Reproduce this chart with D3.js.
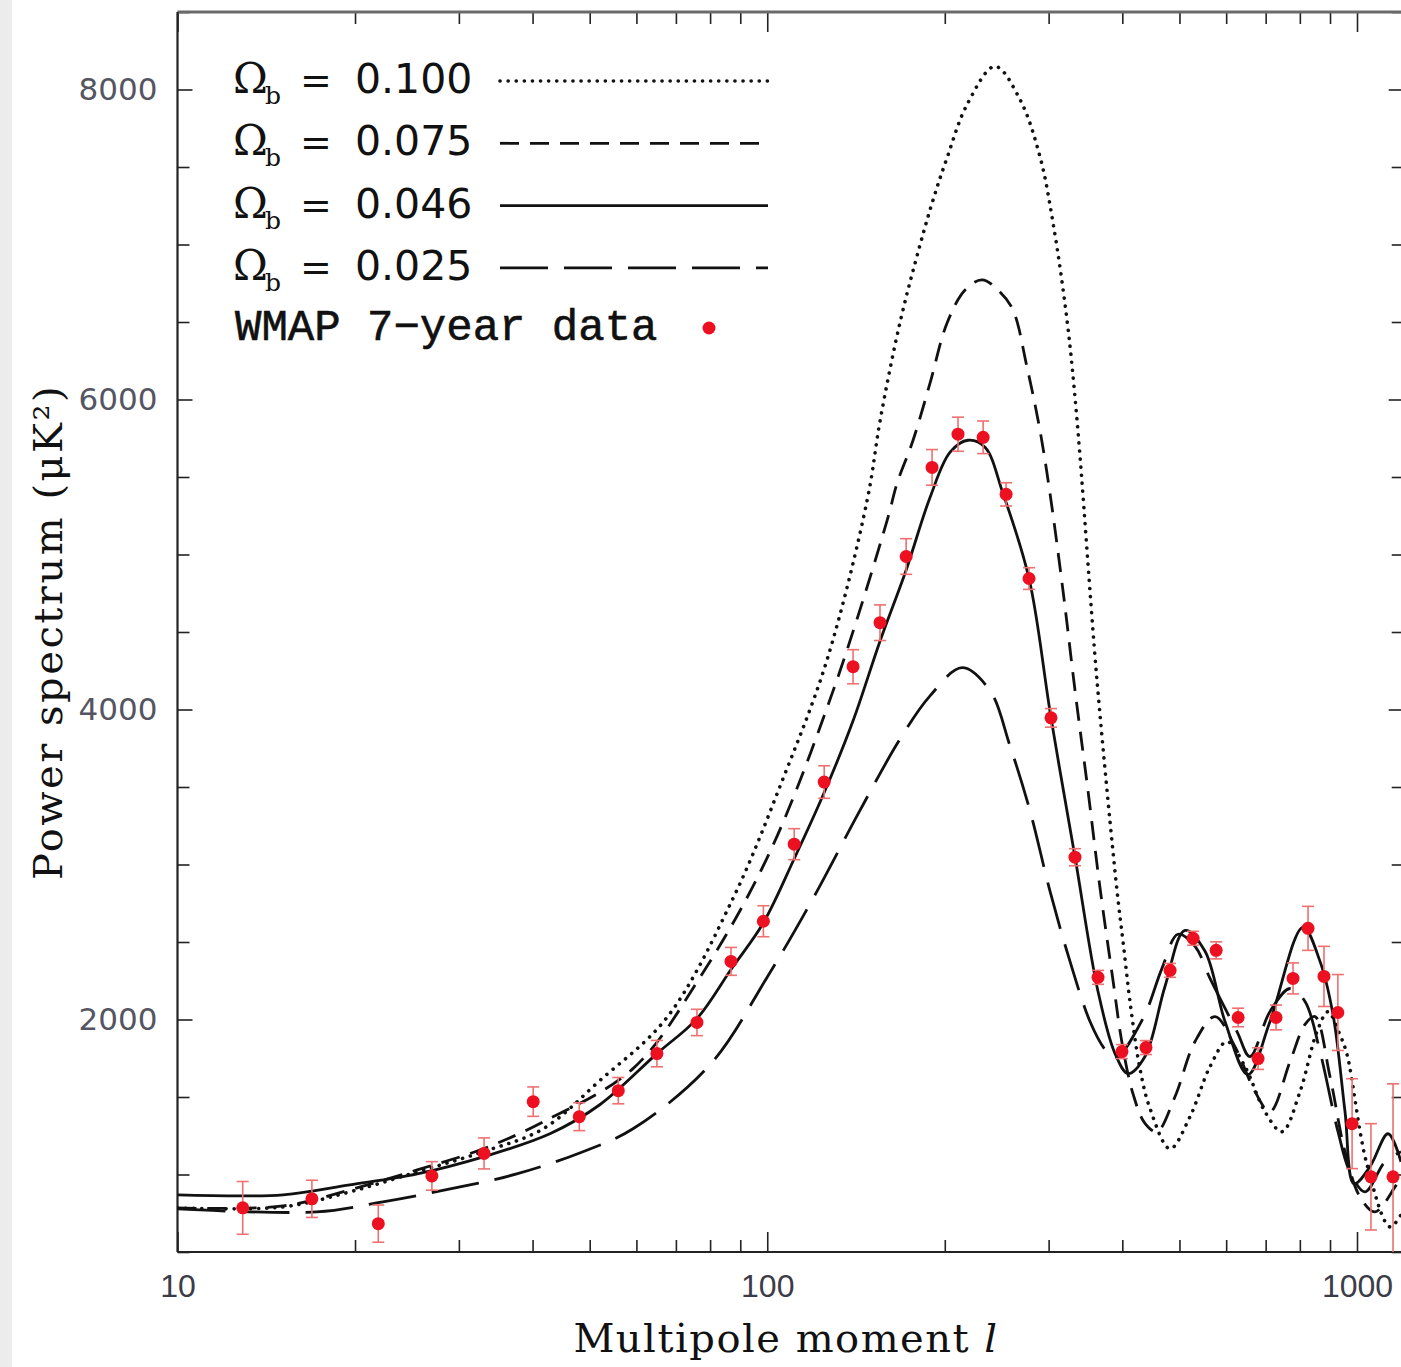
<!DOCTYPE html>
<html lang="en">
<head>
<meta charset="UTF-8">
<title>CMB power spectrum</title>
<script src="https://cdn.jsdelivr.net/npm/d3@7"></script>
<style>
    body { margin: 0; background: #fff; }
</style>
</head>
<body>
<svg width="1401" height="1367"></svg>
<script>
    // WMAP 7-year band powers: multipole, power (muK^2), 1-sigma error
    var wmapL = [12.9, 16.9, 21.9, 27.0, 33.1, 40.1, 48.0, 55.9, 65.0, 76.0, 86.8, 98.5, 111.1, 124.9, 139.8, 155.3, 172.0,
        190.3, 210.6, 232.3, 254.1, 277.9, 302.8, 332.5, 363.8, 399.4, 438.7, 482.0, 527.4, 577, 628.7, 679.6, 729, 779,
        826, 879, 928, 981, 1056, 1151];
    var wmapP = [785, 843, 683, 991, 1136, 1470, 1373, 1541, 1780, 1981, 2375, 2634, 3131, 3532, 4276, 4560, 4987,
        5562, 5776, 5756, 5388, 4845, 3946, 3047, 2272, 1793, 1819, 2317, 2524, 2446, 2013, 1748, 2013, 2265,
        2588, 2278, 2045, 1328, 985, 985];
    var wmapErr = [170, 120, 120, 92, 100, 95, 90, 85, 85, 85, 90, 100, 100, 105, 110, 115, 115,
        115, 110, 105, 75, 70, 60, 55, 45, 45, 45, 45, 45, 55, 60, 70, 80, 100,
        142, 194, 245, 290, 343, 600];

    // model spectra, [l, power] pairs
    var omega100 = [[10, 784], [15.1, 791], [19.6, 888], [25.5, 1017], [33.0, 1147], [41.7, 1295], [52.0, 1606],
        [67.6, 2013], [87.5, 2782], [106.3, 3552], [126.3, 4321], [147.7, 5349], [155.4, 5866], [168, 6500],
        [181.6, 6998], [191.1, 7289], [201.8, 7560], [218.2, 7903], [243.3, 8149], [268.3, 7935], [290, 7567],
        [305.2, 7140], [322.3, 6513], [335.2, 5866], [362.4, 4185], [391.9, 2828], [401.1, 2504], [412.2, 2116],
        [428.5, 1683], [445.7, 1425], [481.8, 1166], [521, 1373], [563.3, 1696], [602, 1858], [645.8, 1696],
        [698.2, 1405], [746.2, 1276], [800.4, 1534], [855.5, 1922], [893, 2050], [935.8, 1900], [961.8, 1774],
        [1039.9, 1063], [1137.5, 662], [1187.4, 740]];
    var omega075 = [[10, 784], [15.1, 797], [19.6, 901], [25.5, 1030], [33, 1166], [41.7, 1340], [59.2, 1683],
        [76.9, 2272], [99.9, 3041], [129.3, 4120], [159.7, 5220], [166, 5459], [176.7, 5737], [188.8, 6105],
        [201.8, 6494], [216.5, 6707], [231.3, 6772], [248.1, 6694], [261, 6578], [275.7, 6209], [290, 5802],
        [301.6, 5394], [317.3, 4767], [332.6, 4121], [349.9, 3474], [366.6, 2850], [385.8, 2250], [399.5, 1850],
        [417.1, 1520], [437, 1330], [458, 1276], [491.3, 1502], [531.3, 1858], [574.5, 2019], [621, 1825],
        [671.4, 1535], [712, 1405], [769.8, 1728], [816.3, 1968], [848.8, 2019], [900, 1631], [954.3, 1147],
        [1011.7, 856], [1072.7, 759], [1160, 920], [1187.4, 985]];
    var omega046 = [[10, 869], [15.1, 869], [19.6, 933], [25.5, 1004], [33.0, 1114], [42.8, 1263], [52.0, 1450],
        [65.0, 1780], [76.0, 2006], [86.8, 2323], [98.4, 2621], [111, 3034], [124.8, 3461], [139.8, 3927],
        [155.4, 4444], [171.9, 4897], [188.8, 5368], [204.2, 5660], [219, 5737], [234, 5692], [251, 5394],
        [277.9, 4845], [302.8, 3946], [332.6, 3047], [363.8, 2181], [388.8, 1780], [409, 1651], [437, 1761],
        [472.5, 2213], [510.9, 2575], [552.5, 2440], [597.3, 1987], [653.4, 1644], [712, 1987], [809.9, 2595],
        [865.5, 2375], [910.6, 2032], [954.3, 1405], [988.3, 940], [1051.9, 1050], [1128.7, 1263], [1187.4, 1082]];
    var omega025 = [[10, 778], [17.2, 759], [22.3, 824], [29.0, 907], [37.6, 1004], [48.7, 1147], [59.2, 1295],
        [80.0, 1709], [99.9, 2271], [119.6, 2782], [143.7, 3351], [168, 3810], [188.8, 4088], [214, 4270],
        [238.6, 4121], [258, 3765], [279, 3345], [301.6, 2828], [326.1, 2375], [352.6, 1987], [373.9, 1806],
        [388.8, 1748], [433.6, 2006], [467, 2330], [497.1, 2550], [531.3, 2472], [563.3, 2265], [625.9, 1922],
        [658.4, 1761], [712, 2052], [769.8, 2200], [816.3, 2116], [865.5, 1793], [928.5, 1276], [973, 1017],
        [1031.8, 888], [1115.5, 1082], [1187.4, 1147]];

    var omegaLabels = ["0.100", "0.075", "0.046", "0.025"];
    var pointLabel = "WMAP 7\u2212year data";

    var xMajor = [10, 100, 1000];
    var xMinor = [20, 30, 40, 50, 60, 70, 80, 90, 200, 300, 400, 500, 600, 700, 800, 900];
    var yMajor = [2000, 4000, 6000, 8000];
    var yMinor = [500, 1000, 1500, 2500, 3000, 3500, 4500, 5000, 5500, 6500, 7000, 7500, 8500];

    var svg = d3.select("svg"), width = +svg.attr("width"), height = +svg.attr("height");

    var x = d3.scaleLog().domain([10, 1200]).range([177.5, 1403.7]);
    var y = d3.scaleLinear().domain([500, 8500]).range([1252, 12]);

    // faint grey strip on the left edge of the scan
    svg.append("rect").attr("width", 12).attr("height", height).attr("fill", "#ececec");

    svg.append("clipPath").attr("id", "plot")
        .append("rect")
        .attr("x", x(10)).attr("y", y(8500))
        .attr("width", x(1200) - x(10)).attr("height", y(500) - y(8500));

    function addAxis(axis, tx, ty) {
        var g = svg.append("g").attr("transform", "translate(" + tx + "," + ty + ")").call(axis);
        g.select(".domain").remove();
        g.selectAll(".tick line").attr("stroke", "#222").attr("stroke-width", 1.6);
        return g;
    }

    // bottom
    var xb = addAxis(d3.axisBottom(x).tickValues(xMajor).tickSize(-20).tickPadding(22).tickFormat(d3.format("d")), 0, y(500));
    xb.selectAll("text").attr("font-family", "Liberation Sans").attr("font-size", 32).attr("fill", "#3c3c48");
    addAxis(d3.axisBottom(x).tickValues(xMinor).tickSize(-12).tickFormat(""), 0, y(500));
    // top
    addAxis(d3.axisTop(x).tickValues(xMajor).tickSize(-20).tickFormat(""), 0, y(8500));
    addAxis(d3.axisTop(x).tickValues(xMinor).tickSize(-12).tickFormat(""), 0, y(8500));
    // left
    var yl = addAxis(d3.axisLeft(y).tickValues(yMajor).tickSize(-15).tickPadding(20).tickFormat(d3.format("d")), x(10), 0);
    yl.selectAll("text").attr("font-family", "DejaVu Sans").attr("font-size", 31).attr("fill", "#555562");
    addAxis(d3.axisLeft(y).tickValues(yMinor).tickSize(-12).tickFormat(""), x(10), 0);
    // right
    addAxis(d3.axisRight(y).tickValues(yMajor).tickSize(-15).tickFormat(""), x(1200), 0);
    addAxis(d3.axisRight(y).tickValues(yMinor).tickSize(-12).tickFormat(""), x(1200), 0);

    // frame
    svg.append("line").attr("x1", x(10)).attr("x2", x(1200)).attr("y1", y(8500)).attr("y2", y(8500))
        .attr("stroke", "#6a6a6a").attr("stroke-width", 3);
    svg.append("line").attr("x1", x(10)).attr("x2", x(1200)).attr("y1", y(500)).attr("y2", y(500))
        .attr("stroke", "#222").attr("stroke-width", 2.2);
    svg.append("line").attr("x1", x(10)).attr("x2", x(10)).attr("y1", y(8500)).attr("y2", y(500))
        .attr("stroke", "#222").attr("stroke-width", 2.2);

    var series = [
        {data: omega100, dash: "0.1,8", cap: "round", w: 3.6},
        {data: omega075, dash: "19,11", cap: "butt", w: 2.8},
        {data: omega046, dash: null, cap: "butt", w: 2.8},
        {data: omega025, dash: "48,16", cap: "butt", w: 2.8}
    ];

    var line = d3.line()
        .x(function (d) { return x(d[0]); })
        .y(function (d) { return y(d[1]); })
        .curve(d3.curveCatmullRom.alpha(0.5));

    var curves = svg.append("g").attr("clip-path", "url(#plot)");
    series.forEach(function (s) {
        curves.append("path")
            .attr("d", line(s.data))
            .attr("fill", "none")
            .attr("stroke", "#111")
            .attr("stroke-width", s.w)
            .attr("stroke-linecap", s.cap)
            .attr("stroke-dasharray", s.dash);
    });

    // data points with error bars
    var pts = svg.append("g").attr("clip-path", "url(#plot)");
    var bars = pts.selectAll(".bar").data(wmapL).enter().append("g").attr("class", "bar");
    bars.append("line")
        .attr("x1", function (d) { return x(d); }).attr("x2", function (d) { return x(d); })
        .attr("y1", function (d, i) { return y(wmapP[i] - wmapErr[i]); })
        .attr("y2", function (d, i) { return y(wmapP[i] + wmapErr[i]); });
    bars.append("line")
        .attr("x1", function (d) { return x(d) - 6; }).attr("x2", function (d) { return x(d) + 6; })
        .attr("y1", function (d, i) { return y(wmapP[i] - wmapErr[i]); })
        .attr("y2", function (d, i) { return y(wmapP[i] - wmapErr[i]); });
    bars.append("line")
        .attr("x1", function (d) { return x(d) - 6; }).attr("x2", function (d) { return x(d) + 6; })
        .attr("y1", function (d, i) { return y(wmapP[i] + wmapErr[i]); })
        .attr("y2", function (d, i) { return y(wmapP[i] + wmapErr[i]); });
    bars.selectAll("line").attr("stroke", "#ee7070").attr("stroke-width", 1.6);
    bars.append("circle")
        .attr("cx", function (d) { return x(d); })
        .attr("cy", function (d, i) { return y(wmapP[i]); })
        .attr("r", 6.5)
        .attr("fill", "#ec1020");

    // legend
    var legend = svg.append("g");
    omegaLabels.forEach(function (lab, i) {
        var base = 93 + i * 62.3;
        var t = legend.append("text").attr("y", base).attr("fill", "#111");
        t.append("tspan").attr("x", 233).attr("font-family", "DejaVu Serif").attr("font-size", 42).text("\u03a9");
        t.append("tspan").attr("x", 265).attr("dy", 11).attr("font-family", "DejaVu Serif")
            .attr("font-size", 25).text("b");
        t.append("tspan").attr("x", 300).attr("dy", -11).attr("font-family", "DejaVu Sans")
            .attr("font-size", 38).text("=");
        t.append("tspan").attr("x", 355).attr("font-family", "DejaVu Sans").attr("font-size", 41).text(lab);
        legend.append("line")
            .attr("x1", 500).attr("x2", 768).attr("y1", base - 12).attr("y2", base - 12)
            .attr("stroke", "#111")
            .attr("stroke-width", series[i].w)
            .attr("stroke-linecap", series[i].cap)
            .attr("stroke-dasharray", series[i].dash);
    });
    legend.append("text").attr("x", 235).attr("y", 340)
        .attr("font-family", "Liberation Mono").attr("font-size", 44).attr("fill", "#111")
        .attr("stroke", "#111").attr("stroke-width", 0.6)
        .text(pointLabel);
    legend.append("circle").attr("cx", 709).attr("cy", 328).attr("r", 6.5).attr("fill", "#ec1020");

    // axis titles
    var xt = svg.append("text").attr("x", 786).attr("y", 1352).attr("text-anchor", "middle")
        .attr("font-family", "DejaVu Serif").attr("font-size", 40).attr("letter-spacing", 1.5).attr("fill", "#111");
    xt.append("tspan").text("Multipole moment ");
    xt.append("tspan").attr("font-style", "italic").text("l");

    svg.append("text").attr("transform", "translate(62,632) rotate(-90)").attr("text-anchor", "middle")
        .attr("font-family", "DejaVu Serif").attr("font-size", 40).attr("letter-spacing", 2.5).attr("fill", "#111")
        .text("Power spectrum (\u03bcK\u00b2)");
</script>
</body>
</html>
